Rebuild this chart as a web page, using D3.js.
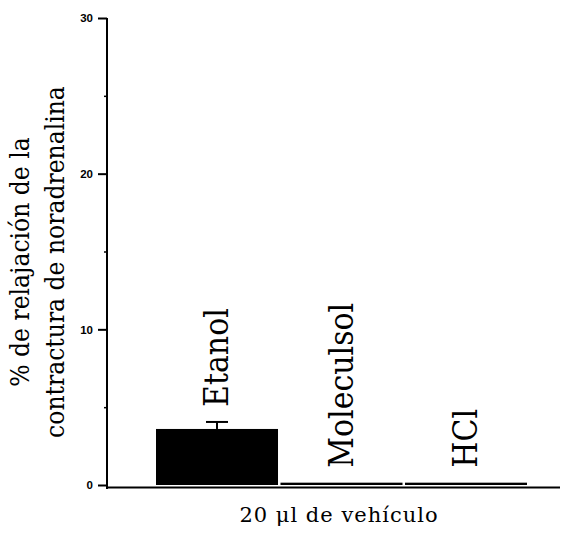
<!DOCTYPE html>
<html>
<head>
<meta charset="utf-8">
<script src="https://cdn.jsdelivr.net/npm/d3@7"></script>
<style>
  html, body { margin: 0; padding: 0; background: #fff; }
  svg { display: block; }
</style>
</head>
<body>
<svg id="chart" width="570" height="537"></svg>
<script>
const categories = ["Etanol", "Moleculsol", "HCl"];
const values = [3.6, 0.15, 0.15];
const errors = [0.45, 0, 0];
const yTicks = [0, 10, 20, 30];
const yMinorTicks = [5, 15, 25];
const yTitleLines = ["% de relajación de la", "contractura de noradrenalina"];
const xTitle = "20 μl de vehículo";

const svg = d3.select("#chart");
const x = d3.scaleBand().domain(categories).range([156, 527]).paddingInner(0.02);
const y = d3.scaleLinear().domain([0, 30]).range([485, 18]);
const axisX = 107;

// bars
svg.append("g").selectAll("rect").data(categories).join("rect")
  .attr("x", d => x(d))
  .attr("width", x.bandwidth())
  .attr("y", (d, i) => y(values[i]))
  .attr("height", (d, i) => y(0) - y(values[i]))
  .attr("fill", "#000");

// error bars
const eg = svg.append("g").attr("stroke", "#000").attr("stroke-width", 2);
categories.forEach((c, i) => {
  if (errors[i] > 0) {
    const cx = x(c) + x.bandwidth() / 2;
    eg.append("line").attr("x1", cx).attr("x2", cx)
      .attr("y1", y(values[i])).attr("y2", y(values[i] + errors[i]));
    eg.append("line").attr("x1", cx - 11).attr("x2", cx + 11)
      .attr("y1", y(values[i] + errors[i])).attr("y2", y(values[i] + errors[i]));
  }
});

// y axis
const yAxis = d3.axisLeft(y).tickValues(yTicks).tickSize(9).tickPadding(5).tickSizeOuter(0);
const ga = svg.append("g").attr("transform", `translate(${axisX},0)`).call(yAxis);
ga.select(".domain").attr("stroke-width", 2).attr("d", `M0,${y(30)}V${y(0) + 4}`);
ga.selectAll(".tick line").attr("stroke-width", 2);
ga.selectAll(".tick text")
  .attr("font-family", "Liberation Sans, Arial, sans-serif")
  .attr("font-weight", "bold").attr("font-size", 11.5).attr("fill", "#000");
const yMinor = d3.axisLeft(y).tickValues(yMinorTicks).tickSize(3).tickFormat("");
const gm = svg.append("g").attr("transform", `translate(${axisX},0)`).call(yMinor);
gm.select(".domain").remove();
gm.selectAll(".tick line").attr("stroke-width", 1.5);

// x axis line
svg.append("line").attr("x1", axisX - 1).attr("x2", 560)
  .attr("y1", y(0) + 2.5).attr("y2", y(0) + 2.5)
  .attr("stroke", "#000").attr("stroke-width", 2);

// category labels (rotated)
svg.append("g").selectAll("text").data(categories).join("text")
  .attr("transform", (d, i) => `translate(${x(d) + x.bandwidth() / 2 + 11},${y(values[i] + errors[i]) - 15}) rotate(-90) scale(1,1.12)`)
  .attr("font-family", "DejaVu Serif, serif")
  .attr("font-size", 30)
  .attr("fill", "#000")
  .text(d => d);

// y title (two lines, rotated)
yTitleLines.forEach((t, i) => {
  svg.append("text")
    .attr("transform", `translate(${29 + i * 35},262) rotate(-90) scale(1,1.08)`)
    .attr("font-family", "DejaVu Serif, serif")
    .attr("font-size", 23.5)
    .attr("fill", "#000")
    .attr("text-anchor", "middle")
    .text(t);
});

// x title
svg.append("text")
  .attr("x", 339).attr("y", 522)
  .attr("font-family", "DejaVu Serif, serif")
  .attr("font-size", 21)
  .attr("letter-spacing", 1)
  .attr("fill", "#000")
  .attr("text-anchor", "middle")
  .text(xTitle);
</script>
</body>
</html>
